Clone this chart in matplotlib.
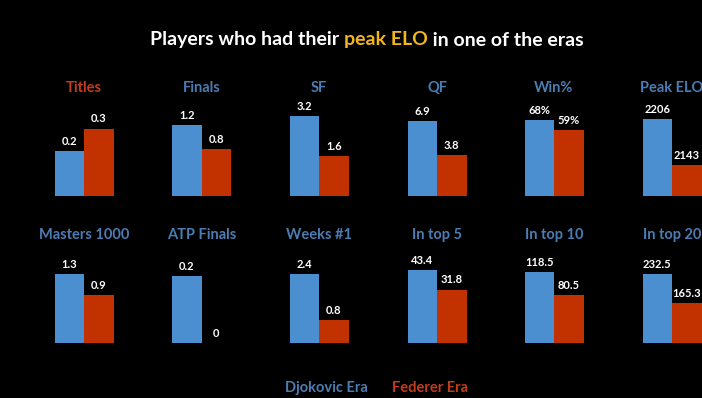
import matplotlib.pyplot as plt
import numpy as np

# stats per player, Djokovic era vs Federer era
metrics = ["Titles", "Finals", "SF", "QF", "Win%", "Peak ELO",
           "Masters 1000", "ATP Finals", "Weeks #1", "In top 5", "In top 10", "In top 20"]
djokovic_era = [0.2, 1.2, 3.2, 6.9, 68, 2206, 1.3, 0.2, 2.4, 43.4, 118.5, 232.5]
federer_era = [0.3, 0.8, 1.6, 3.8, 59, 2143, 0.9, 0, 0.8, 31.8, 80.5, 165.3]
labels_dj = ["0.2", "1.2", "3.2", "6.9", "68%", "2206", "1.3", "0.2", "2.4", "43.4", "118.5", "232.5"]
labels_fe = ["0.3", "0.8", "1.6", "3.8", "59%", "2143", "0.9", "0", "0.8", "31.8", "80.5", "165.3"]

# axis limits (bottom, top) so bar heights look like the original
ylims = [(0, 0.40), (0, 1.52), (0, 3.6), (0, 8.3), (0, 81), (2100, 2224),
         (0, 1.69), (0, 0.27), (0, 3.13), (0, 53.5), (0, 150), (72, 281)]

blue = "#4b8fd1"
red = "#c23200"
title_blue = "#4b7db3"
title_red = "#c23e1a"

plt.rcParams['font.family'] = ['Lato', 'DejaVu Sans']
fig = plt.figure(figsize=(7.02, 3.98), dpi=100, facecolor="black")

W, H = 702, 398
centers = [84, 201.5, 319, 437, 554, 672]
baselines = [196, 343]
ax_h = 90
bar_w = 29.5

for i, name in enumerate(metrics):
    row, col = divmod(i, 6)
    left = (centers[col] - bar_w) / W
    bottom = 1 - baselines[row] / H
    ax = fig.add_axes([left, bottom, 2 * bar_w / W, ax_h / H])
    ax.set_facecolor("black")
    lo, hi = ylims[i]
    vals = [djokovic_era[i], federer_era[i]]
    heights = [max(v - lo, 0) for v in vals]
    ax.bar([0, 1], heights, bottom=lo, width=1.0, color=[blue, red])
    ax.set_xlim(-0.5, 1.5)
    ax.set_ylim(lo, hi)
    ax.axis("off")
    span = hi - lo
    for x, v, t in zip([0, 1], vals, [labels_dj[i], labels_fe[i]]):
        ax.text(x, max(v, lo) + span * 0.045, t, ha="center", va="bottom",
                color="white", fontsize=8, fontweight="bold", clip_on=False)
    ax.text(0.5, 1.2, name, transform=ax.transAxes, ha="center", va="center",
            color=title_red if name == "Titles" else title_blue,
            fontsize=10.5, fontweight="bold", clip_on=False)

# main title, "peak ELO" highlighted
parts = [("Players who had their ", "white"), ("peak ELO", "#f2b51c"),
         (" in one of the eras", "white")]
prev = fig.text(150 / W, 1 - 40 / H, parts[0][0], color=parts[0][1],
                fontsize=14, fontweight="bold", va="center")
for txt, c in parts[1:]:
    prev = plt.annotate(txt, xy=(1, 0.5), xycoords=prev, xytext=(0, 0),
                        textcoords="offset points", color=c, fontsize=14,
                        fontweight="bold", va="center", ha="left")

# legend text
fig.text(326 / W, 1 - 388 / H, "Djokovic Era", color=title_blue, fontsize=10.5,
         fontweight="bold", ha="center", va="center")
fig.text(430 / W, 1 - 388 / H, "Federer Era", color=title_red, fontsize=10.5,
         fontweight="bold", ha="center", va="center")

fig.savefig("out.png", dpi=100, facecolor="black")
